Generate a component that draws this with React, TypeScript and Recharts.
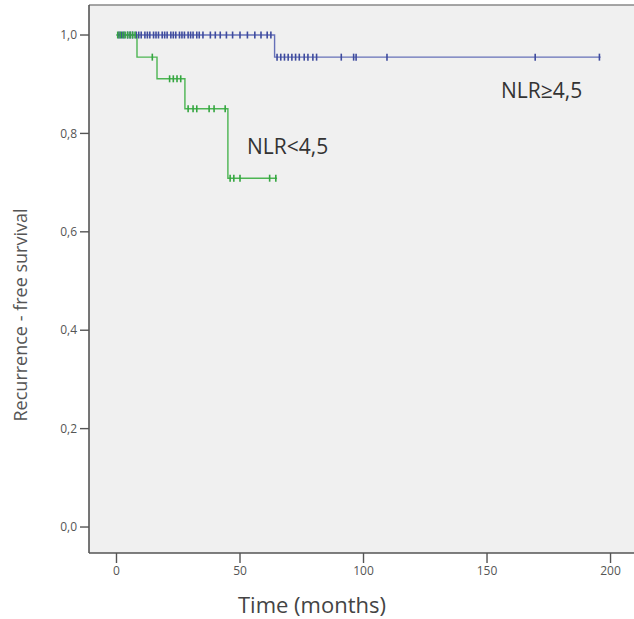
import { ComposedChart, Line, Scatter, XAxis, YAxis, CartesianGrid, ReferenceLine } from 'recharts'

document.body.style.margin = '0'

/* ── Data ── */
// NLR≥4,5 step curve
const highTimes = [0, 64, 196]
const highSurv  = [1, 0.955, 0.955]
// NLR≥4,5 censored observations (months)
const highCensor = [
  1, 2, 3, 4.5, 5.5, 6.5, 8, 9, 10, 11.5, 12.5, 13.5, 15, 16, 17, 18.5, 19.5, 20.5,
  22, 23, 24, 25.5, 26.5, 27.5, 29, 30, 31, 32.5, 33.5, 35, 38, 40, 42, 44.5, 47,
  50, 53, 56, 58.5, 61, 62.5, 65, 66.5, 68, 69.5, 71, 72.5, 74, 76, 77.5, 79.5, 81,
  91, 96, 97, 109.5, 169.5, 195.5,
]

// NLR<4,5 step curve
const lowTimes = [0, 8.3, 16.4, 27.7, 45.1, 65]
const lowSurv  = [1, 0.955, 0.911, 0.85, 0.709, 0.709]
// NLR<4,5 censored observations (months)
const lowCensor = [
  0.5, 1.5, 2.5, 3.5, 4.5, 5.5, 6.5, 7.5, 14.5, 21.5, 23, 24.5, 26,
  29, 31, 32.5, 37.5, 39.5, 44, 46, 47.5, 50, 62, 64.5,
]

const xTicks = [0, 50, 100, 150, 200]
const yTicks = [0, 0.2, 0.4, 0.6, 0.8, 1]

/* ── Helpers ── */
const X_MIN = -11.13
const X_MAX = 209.5
const Y_MIN = -0.0528
const Y_MAX = 1.061

const stepAt = (times: number[], surv: number[], t: number) => {
  let s = surv[0]
  times.forEach((tt, i) => { if (t >= tt) s = surv[i] })
  return s
}

const highLine = highTimes.map((t, i) => ({ t, s: highSurv[i] }))
const lowLine  = lowTimes.map((t, i) => ({ t, s: lowSurv[i] }))
const highMarks = highCensor.map(t => ({ t, s: stepAt(highTimes, highSurv, t) }))
const lowMarks  = lowCensor.map(t => ({ t, s: stepAt(lowTimes, lowSurv, t) }))

const BLUE_LINE = '#6570b8'
const BLUE_MARK = '#3e4b9e'
const GREEN_LINE = '#4cb552'
const GREEN_MARK = '#35a641'

const censorShape = (color: string) => (p: any) => (
  <line x1={p.cx} x2={p.cx} y1={p.cy - 3.5} y2={p.cy + 3.5} stroke={color} strokeWidth={1.6} />
)

const font = '"Open Sans", sans-serif'
const tickStyle = { fill: '#555', fontSize: 12, fontFamily: font }

export default function App() {
  return (
    <div style={{ position: 'relative', width: 634, height: 619, background: '#fff', fontFamily: font }}>
      <ComposedChart width={634} height={619} margin={{ top: 5, right: 0, bottom: 0, left: 0 }}>
        <CartesianGrid fill="#f0f0f0" stroke="transparent" />
        <XAxis
          type="number"
          dataKey="t"
          domain={[X_MIN, X_MAX]}
          ticks={xTicks}
          allowDataOverflow
          height={66}
          tickSize={10}
          tickMargin={3}
          tick={tickStyle}
          axisLine={{ stroke: '#555', strokeWidth: 1.6 }}
          tickLine={{ stroke: '#555', strokeWidth: 1.4 }}
        />
        <YAxis
          type="number"
          dataKey="s"
          domain={[Y_MIN, Y_MAX]}
          ticks={yTicks}
          allowDataOverflow
          width={89}
          tickSize={9}
          tickMargin={3}
          tick={tickStyle}
          tickFormatter={(v: number) => v.toFixed(1).replace('.', ',')}
          axisLine={{ stroke: '#555', strokeWidth: 1.6 }}
          tickLine={{ stroke: '#555', strokeWidth: 1.4 }}
        />
        <ReferenceLine y={Y_MAX} stroke="#888" strokeWidth={1.4} />
        <Line data={highLine} dataKey="s" type="stepAfter" stroke={BLUE_LINE} strokeWidth={1.4} dot={false} isAnimationActive={false} />
        <Scatter data={highMarks} dataKey="s" shape={censorShape(BLUE_MARK)} isAnimationActive={false} />
        <Line data={lowLine} dataKey="s" type="stepAfter" stroke={GREEN_LINE} strokeWidth={1.4} dot={false} isAnimationActive={false} />
        <Scatter data={lowMarks} dataKey="s" shape={censorShape(GREEN_MARK)} isAnimationActive={false} />
      </ComposedChart>

      {/* curve labels */}
      <div style={{ position: 'absolute', left: 501, top: 76, fontSize: 21, color: '#333', whiteSpace: 'nowrap' }}>NLR≥4,5</div>
      <div style={{ position: 'absolute', left: 247, top: 132, fontSize: 21, color: '#333', whiteSpace: 'nowrap' }}>NLR&lt;4,5</div>

      {/* axis titles */}
      <div style={{ position: 'absolute', left: 238, top: 589, fontSize: 22, color: '#444', whiteSpace: 'nowrap' }}>Time (months)</div>
      <div
        style={{
          position: 'absolute', left: 20, top: 315, fontSize: 18, color: '#555', whiteSpace: 'nowrap',
          transform: 'translate(-50%, -50%) rotate(-90deg)',
        }}
      >
        Recurrence - free survival
      </div>
    </div>
  )
}
